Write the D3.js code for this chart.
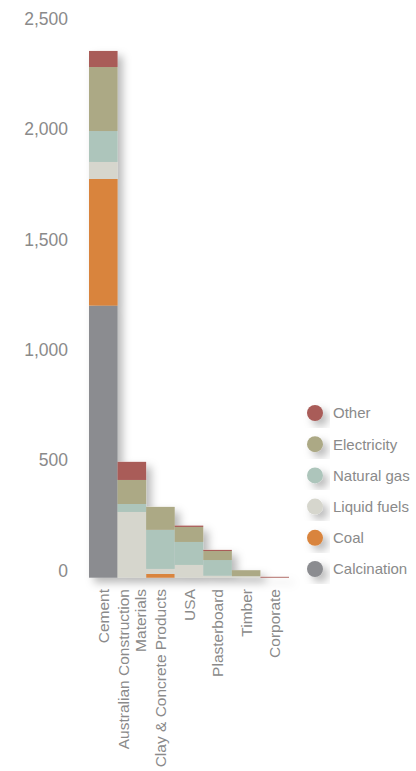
<!DOCTYPE html>
<html>
<head>
<meta charset="utf-8">
<script src="https://cdn.jsdelivr.net/npm/d3@7"></script>
<style>
  body { margin: 0; background: #fff; }
  svg text { font-family: "Liberation Sans", Arial, sans-serif; fill: #8a8a8a; }
</style>
</head>
<body>
<div id="chart"></div>
<script>
var w = 416,
    h = 771;

// kilotonnes CO2-e by division
var categories = ["Cement", "Australian Construction Materials", "Clay & Concrete Products",
                  "USA", "Plasterboard", "Timber", "Corporate"];
var labelLines = [["Cement"], ["Australian Construction", "Materials"], ["Clay & Concrete Products"],
                  ["USA"], ["Plasterboard"], ["Timber"], ["Corporate"]];

var sources = ["Calcination", "Coal", "Liquid fuels", "Natural gas", "Electricity", "Other"];
var colors  = ["#8b8c90", "#d9843c", "#d6d6cd", "#adc5bb", "#aca985", "#a95c58"];

var calcination = [1233, 0, 0, 0, 0, 0, 0];
var coal        = [574, 0, 17, 0, 0, 0, 0];
var liquidFuels = [77, 298, 23, 58, 9, 7, 0];
var naturalGas  = [140, 36, 177, 104, 71, 0, 0];
var electricity = [290, 109, 104, 68, 41, 27, 0];
var other       = [73, 82, 0, 6, 5, 0, 4];

var yTicks = [0, 500, 1000, 1500, 2000, 2500];

var series = [calcination, coal, liquidFuels, naturalGas, electricity, other];

var rows = categories.map(function(c, i) {
  var r = { name: c };
  sources.forEach(function(s, j) { r[s] = series[j][i]; });
  return r;
});

var stack = d3.stack().keys(sources)(rows);

var x = d3.scaleBand()
    .domain(categories)
    .range([89, 289])
    .padding(0);

var y = d3.scaleLinear()
    .domain([0, 2500])
    .range([577.7, 26]);

var color = d3.scaleOrdinal().domain(sources).range(colors);

var svg = d3.select("#chart").append("svg")
    .attr("width", w)
    .attr("height", h);

var defs = svg.append("defs");
var f = defs.append("filter")
    .attr("id", "shadow")
    .attr("x", "-20%").attr("y", "-20%")
    .attr("width", "160%").attr("height", "160%");
f.append("feDropShadow")
    .attr("dx", 5).attr("dy", 5)
    .attr("stdDeviation", 4)
    .attr("flood-color", "#000")
    .attr("flood-opacity", 0.28);

// y axis, labels only
var yAxis = d3.axisLeft(y)
    .tickValues(yTicks)
    .tickSize(0)
    .tickPadding(0)
    .tickFormat(d3.format(","));

var ax = svg.append("g")
    .attr("transform", "translate(68,0)")
    .call(yAxis);
ax.select(".domain").remove();
ax.selectAll("text")
    .attr("dy", 0)
    .attr("y", -1.5)
    .style("font-size", "17.5px")
    .style("fill", "#8a8a8a")
    .style("font-family", "'Liberation Sans', Arial, sans-serif");

// bars
var bars = svg.append("g")
    .attr("filter", "url(#shadow)");

bars.selectAll("g")
    .data(stack)
  .enter().append("g")
    .attr("fill", function(d) { return color(d.key); })
  .selectAll("rect")
    .data(function(d) { return d; })
  .enter().append("rect")
    .attr("x", function(d) { return x(d.data.name); })
    .attr("width", x.bandwidth())
    .attr("y", function(d) { return y(d[1]); })
    .attr("height", function(d) { return y(d[0]) - y(d[1]); });

// category labels, rotated
var cat = svg.append("g").selectAll("g")
    .data(categories)
  .enter().append("g")
    .attr("transform", function(d) {
      return "translate(" + (x(d) + x.bandwidth() / 2) + ",589) rotate(-90)";
    });

cat.each(function(d, i) {
  var lines = labelLines[i];
  var g = d3.select(this);
  lines.forEach(function(t, k) {
    g.append("text")
        .attr("text-anchor", "end")
        .attr("y", (k - (lines.length - 1) / 2) * 16.5)
        .attr("dy", "0.36em")
        .style("font-size", "15.5px")
        .text(t);
  });
});

// legend
var legendOrder = sources.slice().reverse();
var leg = svg.append("g").selectAll("g")
    .data(legendOrder)
  .enter().append("g")
    .attr("transform", function(d, i) { return "translate(315," + (413 + i * 31.2) + ")"; });

leg.append("circle")
    .attr("r", 8)
    .attr("fill", function(d) { return color(d); })
    .attr("filter", "url(#shadow)");

leg.append("text")
    .attr("x", 18)
    .attr("dy", "0.36em")
    .style("font-size", "15px")
    .text(function(d) { return d; });
</script>
</body>
</html>
